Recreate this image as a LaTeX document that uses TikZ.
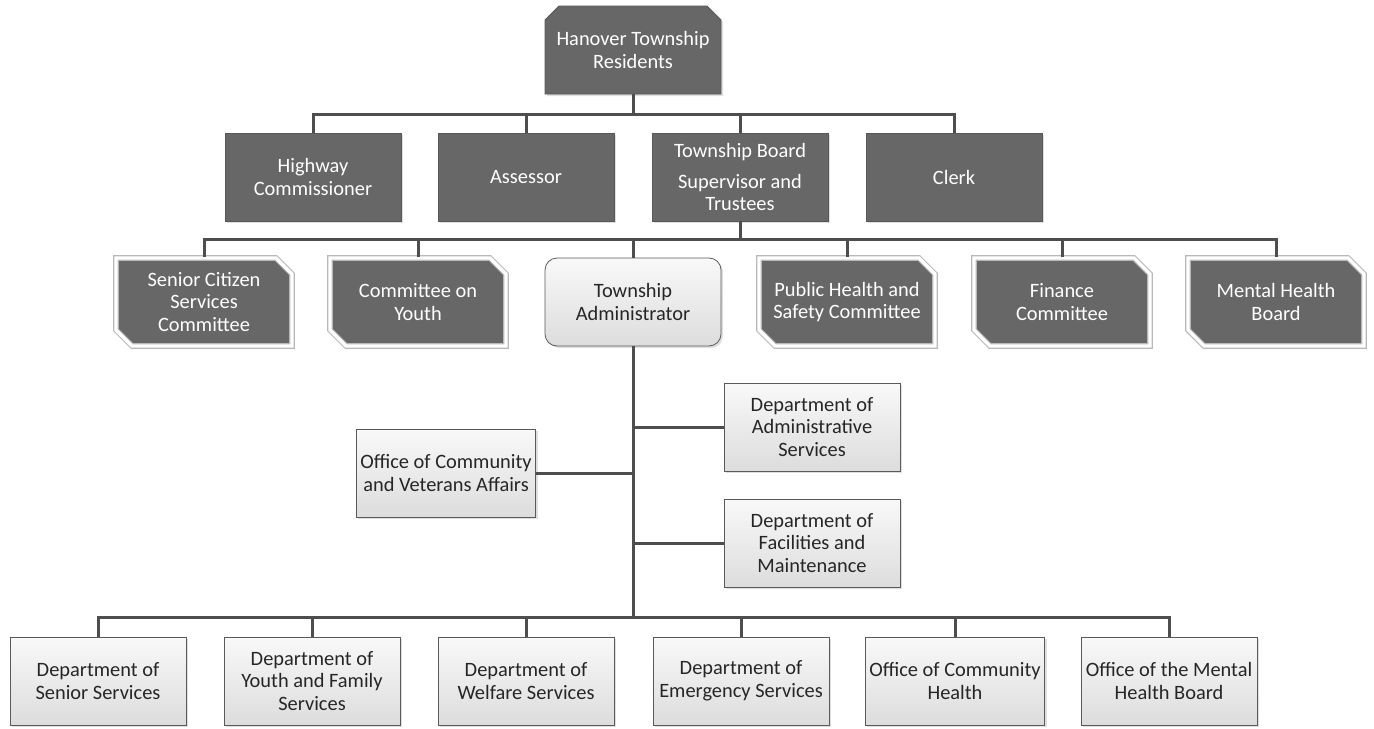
\documentclass[tikz,border=0pt]{standalone}
\usepackage{fontspec}
\setmainfont{Carlito}
\usetikzlibrary{shapes.misc, shadows, positioning, calc}
\definecolor{boxdark}{HTML}{676767}
\definecolor{linegray}{HTML}{4E4E4E}
\definecolor{bordergray}{HTML}{5A5A5A}

\begin{document}
\begin{tikzpicture}[x=0.5pt, y=-0.5pt,
    every node/.style={font=\fontsize{10.2}{11.3}\selectfont, align=center},
    darkbox/.style={rectangle, fill=boxdark, draw=boxdark!85!black, text=white,
                    minimum width=88pt, minimum height=44pt, inner sep=2pt,
                    drop shadow={opacity=0.25, shadow xshift=1pt, shadow yshift=-1pt}},
    topbox/.style={darkbox, chamfered rectangle,
                   chamfered rectangle corners={north west, north east},
                   chamfered rectangle xsep=3.5pt, chamfered rectangle ysep=3.5pt},
    combox/.style={darkbox, chamfered rectangle,
                   chamfered rectangle corners={north east, south west},
                   chamfered rectangle xsep=4pt, chamfered rectangle ysep=4pt,
                   draw=gray!55, double=white, double distance=1.6pt, line width=0.6pt},
    litebox/.style={rectangle, draw=bordergray, top color=gray!5, bottom color=gray!27,
                    text=black!85, minimum width=88pt, minimum height=44pt, inner sep=2pt,
                    drop shadow={opacity=0.25, shadow xshift=1pt, shadow yshift=-1pt}},
    adminbox/.style={litebox, rounded corners=6pt},
    link/.style={draw=linegray, line width=1.5pt},
]

\fill[white] (0,0) rectangle (1374,728);
\useasboundingbox (0,0) rectangle (1374,728);

% Residents and elected officials
\node[topbox] (res) at (633,50) {Hanover Township\\Residents};
\node[darkbox] (hwy)   at (313,177) {Highway\\Commissioner};
\node[darkbox] (asr)   at (526,177) {Assessor};
\node[darkbox] (board) at (740,177) {Township Board\\[4pt]Supervisor and\\Trustees};
\node[darkbox] (clerk) at (954,177) {Clerk};

% Committees under the board
\node[combox]   (senior) at (204,302)  {Senior Citizen\\Services\\Committee};
\node[combox]   (youth)  at (418,302)  {Committee on\\Youth};
\node[adminbox] (admin)  at (633,302)  {Township\\Administrator};
\node[combox]   (safety) at (847,302)  {Public Health and\\Safety Committee};
\node[combox]   (fin)    at (1062,302) {Finance\\Committee};
\node[combox]   (mhb)    at (1276,302) {Mental Health\\Board};

% Staff offices
\node[litebox] (admsvc) at (812,427) {Department of\\Administrative\\Services};
\node[litebox] (vets)   at (446,473) {Office of Community\\and Veterans Affairs};
\node[litebox] (facil)  at (812,543) {Department of\\Facilities and\\Maintenance};

% Departments
\node[litebox] (dsenior) at (98,681)   {Department of\\Senior Services};
\node[litebox] (dyouth)  at (312,681)  {Department of\\Youth and Family\\Services};
\node[litebox] (dwelf)   at (526,681)  {Department of\\Welfare Services};
\node[litebox] (demerg)  at (741,681)  {Department of\\Emergency Services};
\node[litebox] (ocomm)   at (955,681)  {Office of Community\\Health};
\node[litebox] (omhb)    at (1169,681) {Office of the Mental\\Health Board};

% Connectors
\coordinate (busA) at (633,114);
\coordinate (busB) at (740,239);
\coordinate (busC) at (633,617);

\draw[link] (res) -- (busA);
\foreach \n in {hwy, asr, board, clerk}
  \draw[link] (busA) -| (\n);

\draw[link] (board) -- (busB);
\foreach \n in {senior, youth, admin, safety, fin, mhb}
  \draw[link] (busB) -| (\n);

\draw[link] (admin) -- (busC);
\foreach \n in {dsenior, dyouth, dwelf, demerg, ocomm, omhb}
  \draw[link] (busC) -| (\n);

\draw[link] (admsvc.west) -- (admsvc.west -| admin.center);
\draw[link] (facil.west) -- (facil.west -| admin.center);
\draw[link] (vets.east) -- (vets.east -| admin.center);

\end{tikzpicture}
\end{document}
